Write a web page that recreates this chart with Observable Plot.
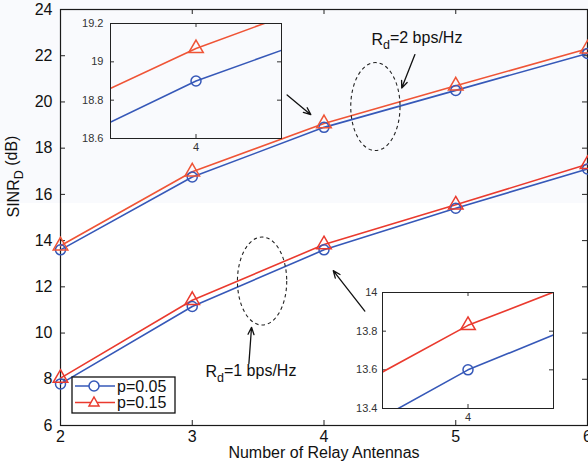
<!DOCTYPE html>
<html>
<head>
<meta charset="utf-8">
<script src="https://cdn.jsdelivr.net/npm/d3@7"></script>
<script src="https://cdn.jsdelivr.net/npm/@observablehq/plot@0.6"></script>
<style>
  html, body { margin: 0; padding: 0; }
  body { width: 588px; height: 468px; overflow: hidden;
         background: linear-gradient(#f9fafd 0px, #f9fafd 203px, #ffffff 203px); }
  #wrap { position: relative; width: 588px; height: 468px; font-family: "Liberation Sans", Arial, sans-serif; }
  #wrap > * { position: absolute; }
</style>
</head>
<body>
<div id="wrap"></div>
<script>
// ---------------- data ----------------
const antennas = [2, 3, 4, 5, 6];
const rd1_p005 = [7.8, 11.15, 13.6, 15.4, 17.1];
const rd1_p015 = [8.05, 11.42, 13.83, 15.55, 17.3];
const rd2_p005 = [13.6, 16.75, 18.9, 20.5, 22.1];
const rd2_p015 = [13.78, 16.98, 19.07, 20.7, 22.3];
const seriesNames = ["p=0.05", "p=0.15"];
const xTicks = [2, 3, 4, 5, 6];
const yTicks = [6, 8, 10, 12, 14, 16, 18, 20, 22, 24];
const inset1YTicks = [18.6, 18.8, 19, 19.2];
const inset2YTicks = [13.4, 13.6, 13.8, 14];
const insetXTicks = [4];
const xLabel = "Number of Relay Antennas";
const yLabel = "SINR_D (dB)";
// annotation anchors (data units)
const ellipses = [{x: 4.39, y: 19.8}, {x: 3.53, y: 12.25}];
const arrows = [
  {x1: 3.72, y1: 20.3, x2: 3.9, y2: 19.45},
  {x1: 4.69, y1: 22.05, x2: 4.59, y2: 20.6},
  {x1: 3.43, y1: 8.68, x2: 3.45, y2: 10.25},
  {x1: 4.31, y1: 10.95, x2: 4.07, y2: 12.7}
];
const notes = [
  {x: 4.36, y: 22.7, text: "R_d=2 bps/Hz"},
  {x: 3.10, y: 8.3, text: "R_d=1 bps/Hz"}
];

const BLUE = "#3658b8";
const RED = "#ea3a2e";
const RED2 = "#ef5436";

const rows = [];
const groups = [
  {key: "rd1a", p: seriesNames[0], vals: rd1_p005, color: BLUE},
  {key: "rd1b", p: seriesNames[1], vals: rd1_p015, color: RED},
  {key: "rd2a", p: seriesNames[0], vals: rd2_p005, color: BLUE},
  {key: "rd2b", p: seriesNames[1], vals: rd2_p015, color: RED2}
];
for (const g of groups) antennas.forEach((a, i) => rows.push({x: a, y: g.vals[i], key: g.key, p: g.p, color: g.color}));
const circles = rows.filter(d => d.p === seriesNames[0]);
const triangles = rows.filter(d => d.p === seriesNames[1]);

const FONT = "'Liberation Sans', Arial, Helvetica, sans-serif";

function subscripts(svg) {
  svg.querySelectorAll("text").forEach(t => {
    if (t.querySelector("tspan")) return;
    const s = t.textContent;
    const m = s.match(/^(.*?)_(\w)(.*)$/);
    if (!m) return;
    t.textContent = "";
    const ns = "http://www.w3.org/2000/svg";
    const a = document.createElementNS(ns, "tspan"); a.textContent = m[1];
    const b = document.createElementNS(ns, "tspan"); b.textContent = m[2];
    b.setAttribute("dy", "0.35em"); b.setAttribute("font-size", "0.78em");
    const c = document.createElementNS(ns, "tspan"); c.textContent = m[3];
    c.setAttribute("dy", "-0.35em");
    t.append(a, b, c);
  });
}

const ellipseSymbol = {
  draw(ctx, size) {
    const r = Math.sqrt(size / Math.PI);
    const ry = r, rx = r * 0.56, k = 0.5523;
    ctx.moveTo(rx, 0);
    ctx.bezierCurveTo(rx, k * ry, k * rx, ry, 0, ry);
    ctx.bezierCurveTo(-k * rx, ry, -rx, k * ry, -rx, 0);
    ctx.bezierCurveTo(-rx, -k * ry, -k * rx, -ry, 0, -ry);
    ctx.bezierCurveTo(k * rx, -ry, rx, -k * ry, rx, 0);
    ctx.closePath();
  }
};

// ---------------- main chart ----------------
const W = 588, H = 468, ML = 60, MR = 1, MT = 9, MB = 43;
const PW = W - ML - MR, PH = H - MT - MB;

const main = Plot.plot({
  width: W, height: H,
  marginLeft: ML, marginRight: MR, marginTop: MT, marginBottom: MB,
  style: {background: "transparent", fontFamily: FONT, fontSize: "16px", color: "#111", overflow: "visible"},
  x: {domain: [2, 6]},
  y: {domain: [6, 24]},
  marks: [
    Plot.axisX({ticks: xTicks, tickSize: 0, tickPadding: 5, tickFormat: d => d, label: null, fontSize: 16}),
    Plot.axisY({ticks: yTicks, tickSize: 0, tickPadding: 8, tickFormat: d => d, label: null, fontSize: 16}),
    Plot.tickY(yTicks, {y: d => d, insetRight: PW - 5, stroke: "#222"}),
    Plot.tickY(yTicks, {y: d => d, insetLeft: PW - 5, stroke: "#222"}),
    Plot.tickX(xTicks, {x: d => d, insetTop: PH - 5, stroke: "#222"}),
    Plot.tickX(xTicks, {x: d => d, insetBottom: PH - 5, stroke: "#222"}),
    Plot.frame({stroke: "#1a1a1a", strokeWidth: 1.2}),
    Plot.line(rows, {x: "x", y: "y", z: "key", stroke: d => d.color, strokeWidth: 1.6}),
    Plot.dot(circles, {x: "x", y: "y", symbol: "circle", r: 5, stroke: d => d.color, strokeWidth: 1.5, fill: "none"}),
    Plot.dot(triangles, {x: "x", y: "y", symbol: "triangle", r: 5.4, stroke: d => d.color, strokeWidth: 1.5, fill: "none"}),
    Plot.dot(ellipses, {x: "x", y: "y", r: 44, symbol: ellipseSymbol, stroke: "#222", strokeWidth: 1.1, strokeDasharray: "3.5,3", fill: "none"}),
    Plot.arrow(arrows, {x1: "x1", y1: "y1", x2: "x2", y2: "y2", stroke: "#111", strokeWidth: 1.3, headLength: 9, headAngle: 45}),
    Plot.text(notes, {x: "x", y: "y", text: "text", textAnchor: "start", fontSize: 16, fill: "#111"}),
    Plot.text([xLabel], {frameAnchor: "bottom", dy: 32, fontSize: 16, fill: "#111"}),
    Plot.text([yLabel], {frameAnchor: "left", dx: -47, rotate: -90, fontSize: 16, fill: "#111"})
  ]
});
main.style.left = "0px"; main.style.top = "0px";
subscripts(main);
document.getElementById("wrap").append(main);

// ---------------- insets ----------------
function inset(yDomain, yT, box, labelPad) {
  const mL = 40, mR = 3, mT = 6, mB = 20;
  const bw = box.x2 - box.x1, bh = box.y2 - box.y1;
  const svg = Plot.plot({
    width: bw + mL + mR, height: bh + mT + mB,
    marginLeft: mL, marginRight: mR, marginTop: mT, marginBottom: mB,
    style: {background: "transparent", fontFamily: FONT, fontSize: "11px", color: "#333"},
    x: {domain: [3.9, 4.1]},
    y: {domain: yDomain},
    marks: [
      Plot.axisX({ticks: insetXTicks, tickSize: 0, tickPadding: 5, tickFormat: d => d, label: null}),
      Plot.axisY({ticks: yT, tickSize: 0, tickPadding: labelPad, tickFormat: d => d, label: null}),
      Plot.tickY(yT, {y: d => d, insetRight: bw - 4, stroke: "#333"}),
      Plot.tickY(yT, {y: d => d, insetLeft: bw - 4, stroke: "#333"}),
      Plot.tickX(insetXTicks, {x: d => d, insetTop: bh - 4, stroke: "#333"}),
      Plot.tickX(insetXTicks, {x: d => d, insetBottom: bh - 4, stroke: "#333"}),
      Plot.line(rows, {x: "x", y: "y", z: "key", stroke: d => d.color, strokeWidth: 1.6, clip: true}),
      Plot.dot(circles, {x: "x", y: "y", symbol: "circle", r: 5, stroke: d => d.color, strokeWidth: 1.5, fill: "none", clip: true}),
      Plot.dot(triangles, {x: "x", y: "y", symbol: "triangle", r: 5.4, stroke: d => d.color, strokeWidth: 1.5, fill: "none", clip: true}),
      Plot.frame({stroke: "#222", strokeWidth: 1})
    ]
  });
  svg.style.left = (box.x1 - mL) + "px";
  svg.style.top = (box.y1 - mT) + "px";
  return svg;
}
const wrap = document.getElementById("wrap");
wrap.append(inset([18.6, 19.2], inset1YTicks, {x1: 110, x2: 281, y1: 23, y2: 138}, 7));
wrap.append(inset([13.4, 14], inset2YTicks, {x1: 382, x2: 553, y1: 292, y2: 408}, 5));

// ---------------- legend ----------------
const ns = "http://www.w3.org/2000/svg";
const leg = document.createElementNS(ns, "svg");
leg.setAttribute("width", 106); leg.setAttribute("height", 39);
leg.style.left = "71px"; leg.style.top = "376px";
const box = document.createElementNS(ns, "rect");
Object.entries({x: 1, y: 1, width: 103, height: 36, fill: "#fff", stroke: "#111", "stroke-width": 1.3}).forEach(([k, v]) => box.setAttribute(k, v));
leg.append(box);
seriesNames.forEach((name, i) => {
  const cy = 10 + i * 16.5;
  const col = i === 0 ? BLUE : RED;
  const ln = document.createElementNS(ns, "line");
  Object.entries({x1: 4, x2: 44, y1: cy, y2: cy, stroke: col, "stroke-width": 1.6}).forEach(([k, v]) => ln.setAttribute(k, v));
  leg.append(ln);
  if (i === 0) {
    const c = document.createElementNS(ns, "circle");
    Object.entries({cx: 23, cy, r: 5, fill: "#fff", stroke: col, "stroke-width": 1.5}).forEach(([k, v]) => c.setAttribute(k, v));
    leg.append(c);
  } else {
    const p = document.createElementNS(ns, "path");
    p.setAttribute("d", `M23,${cy - 5.5}L28,${cy + 3.5}L18,${cy + 3.5}Z`);
    Object.entries({fill: "#fff", stroke: col, "stroke-width": 1.5}).forEach(([k, v]) => p.setAttribute(k, v));
    leg.append(p);
  }
  const t = document.createElementNS(ns, "text");
  Object.entries({x: 46, y: cy + 5.5, "font-size": 16, fill: "#111", "font-family": FONT}).forEach(([k, v]) => t.setAttribute(k, v));
  t.textContent = name;
  leg.append(t);
});
wrap.append(leg);
</script>
</body>
</html>
